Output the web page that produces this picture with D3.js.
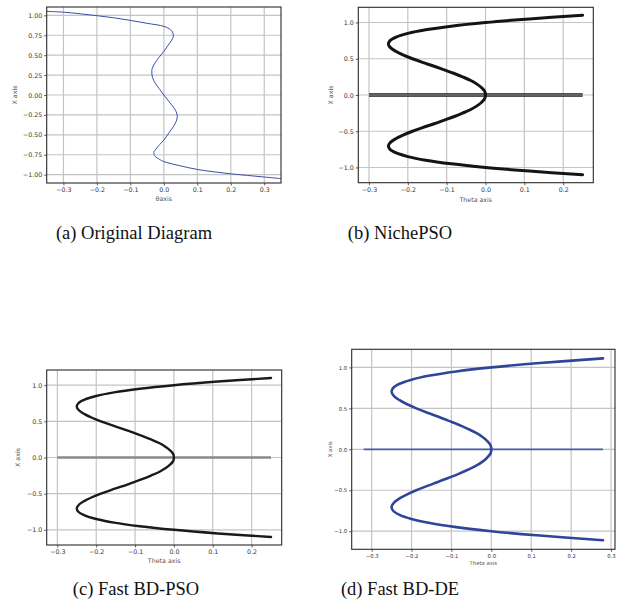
<!DOCTYPE html>
<html><head><meta charset="utf-8">
<script src="https://cdn.jsdelivr.net/npm/d3@7"></script>
<style>html,body{margin:0;padding:0;background:#fff}svg{display:block}</style>
</head><body>
<svg id="c" width="617" height="610"></svg>
<script>
// ---------- data ----------
const captions = ["(a) Original Diagram", "(b) NichePSO", "(c) Fast BD-PSO", "(d) Fast BD-DE"];

// (a) original diagram : X value and theta value along the curve
const aCurveX =     [1.05, 1.04, 1.02, 0.996, 0.97, 0.937, 0.90, 0.862, 0.82, 0.78, 0.73, 0.68, 0.62, 0.547, 0.47, 0.40, 0.33, 0.29, 0.22, 0.15, 0.08, 0.00, -0.08, -0.15, -0.21, -0.27, -0.33, -0.40, -0.47, -0.56, -0.62, -0.68, -0.723, -0.77, -0.81, -0.836, -0.89, -0.935, -0.965, -0.99, -1.01, -1.03, -1.05];
const aCurveTheta = [-0.35, -0.30, -0.25, -0.20, -0.15, -0.10, -0.05, 0.00, 0.020, 0.027, 0.028, 0.022, 0.012, 0.000, -0.015, -0.027, -0.035, -0.036, -0.034, -0.026, -0.014, 0.000, 0.015, 0.028, 0.037, 0.040, 0.037, 0.028, 0.016, 0.001, -0.012, -0.024, -0.030, -0.026, -0.012, 0.000, 0.05, 0.10, 0.15, 0.20, 0.25, 0.30, 0.35];
const aXTicks = [-0.3, -0.2, -0.1, 0.0, 0.1, 0.2, 0.3];
const aYTicks = [-1.0, -0.75, -0.5, -0.25, 0.0, 0.25, 0.5, 0.75, 1.0];

// (b), (c) bifurcation curve
const bcCurveX =     [1.10, 1.05, 1.00, 0.95, 0.90, 0.85, 0.80, 0.75, 0.70, 0.65, 0.60, 0.55, 0.50, 0.45, 0.40, 0.35, 0.30, 0.25, 0.20, 0.15, 0.10, 0.05, 0.00, -0.05, -0.10, -0.15, -0.20, -0.25, -0.30, -0.35, -0.40, -0.45, -0.50, -0.55, -0.60, -0.65, -0.70, -0.75, -0.80, -0.85, -0.90, -0.95, -1.00, -1.05, -1.10];
const bcCurveTheta = [0.25, 0.113, 0.00, -0.088, -0.154, -0.200, -0.230, -0.246, -0.250, -0.244, -0.230, -0.211, -0.188, -0.162, -0.134, -0.108, -0.082, -0.059, -0.038, -0.022, -0.010, -0.002, 0.00, -0.002, -0.010, -0.022, -0.038, -0.059, -0.082, -0.108, -0.134, -0.162, -0.188, -0.211, -0.230, -0.244, -0.250, -0.246, -0.230, -0.200, -0.154, -0.088, 0.00, 0.113, 0.25];
const bcBranchTheta = [-0.30, 0.25];
const bcXTicks = [-0.3, -0.2, -0.1, 0.0, 0.1, 0.2];

// (d) Fast BD-DE
const dCurveX =     [1.11, 1.05, 1.00, 0.95, 0.90, 0.85, 0.80, 0.75, 0.70, 0.65, 0.60, 0.55, 0.50, 0.45, 0.40, 0.35, 0.30, 0.25, 0.20, 0.15, 0.10, 0.05, 0.00, -0.05, -0.10, -0.15, -0.20, -0.25, -0.30, -0.35, -0.40, -0.45, -0.50, -0.55, -0.60, -0.65, -0.70, -0.75, -0.80, -0.85, -0.90, -0.95, -1.00, -1.05, -1.11];
const dCurveTheta = [0.28, 0.113, 0.00, -0.088, -0.154, -0.200, -0.230, -0.246, -0.250, -0.244, -0.230, -0.211, -0.188, -0.162, -0.134, -0.108, -0.082, -0.059, -0.038, -0.022, -0.010, -0.002, 0.00, -0.002, -0.010, -0.022, -0.038, -0.059, -0.082, -0.108, -0.134, -0.162, -0.188, -0.211, -0.230, -0.244, -0.250, -0.246, -0.230, -0.200, -0.154, -0.088, 0.00, 0.113, 0.28];
const dBranchTheta = [-0.32, 0.28];
const dXTicks = [-0.3, -0.2, -0.1, 0.0, 0.1, 0.2, 0.3];

const yTicksHalf = [-1.0, -0.5, 0.0, 0.5, 1.0];

// ---------- drawing ----------
const svg = d3.select("#c");

function panel(cfg) {
  const g = svg.append("g");
  const x = d3.scaleLinear().domain(cfg.xDomain).range([cfg.left, cfg.right]);
  const y = d3.scaleLinear().domain(cfg.yDomain).range([cfg.bottom, cfg.top]);
  const fs = cfg.fs;

  // grid
  g.append("g").selectAll("line").data(cfg.xTicks).join("line")
    .attr("x1", d => x(d)).attr("x2", d => x(d))
    .attr("y1", cfg.top).attr("y2", cfg.bottom)
    .attr("stroke", "#c4c4c4").attr("stroke-width", 1.2);
  g.append("g").selectAll("line").data(cfg.yTicks).join("line")
    .attr("x1", cfg.left).attr("x2", cfg.right)
    .attr("y1", d => y(d)).attr("y2", d => y(d))
    .attr("stroke", "#c4c4c4").attr("stroke-width", 1.2);

  // clip
  const clipId = "clip" + cfg.id;
  svg.append("clipPath").attr("id", clipId).append("rect")
    .attr("x", cfg.left).attr("y", cfg.top)
    .attr("width", cfg.right - cfg.left).attr("height", cfg.bottom - cfg.top);
  const plot = g.append("g").attr("clip-path", `url(#${clipId})`);

  const line = d3.line().x(d => x(d[1])).y(d => y(d[0])).curve(d3.curveCatmullRom.alpha(0.5));

  if (cfg.branch) {
    cfg.branch.forEach(b => {
      plot.append("line")
        .attr("x1", x(cfg.branchTheta[0])).attr("x2", x(cfg.branchTheta[1]))
        .attr("y1", y(0)).attr("y2", y(0))
        .attr("stroke", b.color).attr("stroke-width", b.width);
    });
  }
  const pts = cfg.curveX.map((v, i) => [v, cfg.curveTheta[i]]);
  plot.append("path").datum(pts).attr("d", line)
    .attr("fill", "none").attr("stroke", cfg.color).attr("stroke-width", cfg.lw)
    .attr("stroke-linejoin", "round").attr("stroke-linecap", "round");

  // frame
  g.append("rect").attr("x", cfg.left).attr("y", cfg.top)
    .attr("width", cfg.right - cfg.left).attr("height", cfg.bottom - cfg.top)
    .attr("fill", "none").attr("stroke", "#2a2a2a").attr("stroke-width", 1.1);

  // axes
  const fmtX = d3.format(".1f");
  const xa = g.append("g").attr("transform", `translate(0,${cfg.bottom})`)
    .call(d3.axisBottom(x).tickValues(cfg.xTicks).tickFormat(fmtX).tickSize(2.5).tickPadding(2));
  const ya = g.append("g").attr("transform", `translate(${cfg.left},0)`)
    .call(d3.axisLeft(y).tickValues(cfg.yTicks).tickFormat(d3.format(cfg.yFmt)).tickSize(2.5).tickPadding(2));
  [xa, ya].forEach(a => {
    a.select(".domain").remove();
    a.selectAll(".tick line").attr("stroke", "#333").attr("stroke-width", 0.8);
    a.selectAll(".tick text").attr("fill", "#333").style("font-family", "DejaVu Sans").style("font-size", fs + "px");
  });

  // labels
  g.append("text").attr("x", (cfg.left + cfg.right) / 2).attr("y", cfg.xLabelY)
    .attr("text-anchor", "middle").attr("fill", "#555")
    .style("font-family", "DejaVu Sans").style("font-size", fs + "px").text(cfg.xLabel);
  g.append("text").attr("transform", `translate(${cfg.yLabelX},${(cfg.top + cfg.bottom) / 2}) rotate(-90)`)
    .attr("text-anchor", "middle").attr("fill", "#555")
    .style("font-family", "DejaVu Sans").style("font-size", fs + "px").text(cfg.yLabel);
}

panel({id: "a", left: 46.7, right: 281, top: 7, bottom: 183,
  xDomain: [-0.35, 0.35], yDomain: [-1.105, 1.105],
  xTicks: aXTicks, yTicks: aYTicks, yFmt: ".2f",
  curveX: aCurveX, curveTheta: aCurveTheta, color: "#3b4ea6", lw: 1,
  fs: 6.3, xLabel: "θaxis", yLabel: "X axis", xLabelY: 201, yLabelX: 17});

panel({id: "b", left: 358.3, right: 593.3, top: 7.3, bottom: 182.7,
  xDomain: [-0.3275, 0.2775], yDomain: [-1.21, 1.21],
  xTicks: bcXTicks, yTicks: yTicksHalf, yFmt: ".1f",
  curveX: bcCurveX, curveTheta: bcCurveTheta, color: "#141414", lw: 3,
  branch: [{color: "#1a1a1a", width: 3.4}, {color: "#aaaaaa", width: 1}], branchTheta: bcBranchTheta,
  fs: 6.3, xLabel: "Theta axis", yLabel: "X axis", xLabelY: 202, yLabelX: 333});

panel({id: "c", left: 46.7, right: 281.7, top: 370, bottom: 545,
  xDomain: [-0.3275, 0.2775], yDomain: [-1.21, 1.21],
  xTicks: bcXTicks, yTicks: yTicksHalf, yFmt: ".1f",
  curveX: bcCurveX, curveTheta: bcCurveTheta, color: "#1a1a1a", lw: 2.4,
  branch: [{color: "#8a8a8a", width: 2.4}], branchTheta: bcBranchTheta,
  fs: 6.3, xLabel: "Theta axis", yLabel: "X axis", xLabelY: 563, yLabelX: 20});

panel({id: "d", left: 351.7, right: 615, top: 349.3, bottom: 549.3,
  xDomain: [-0.35, 0.31], yDomain: [-1.221, 1.221],
  xTicks: dXTicks, yTicks: yTicksHalf, yFmt: ".1f",
  curveX: dCurveX, curveTheta: dCurveTheta, color: "#2f4599", lw: 2.6,
  branch: [{color: "#4a5ea8", width: 1.8}], branchTheta: dBranchTheta,
  fs: 5.3, xLabel: "Theta axis", yLabel: "X axis", xLabelY: 564.5, yLabelX: 332});

// captions
const capPos = [[134, 239], [400, 239], [136, 595], [400, 595]];
svg.append("g").selectAll("text").data(captions).join("text")
  .attr("x", (d, i) => capPos[i][0]).attr("y", (d, i) => capPos[i][1])
  .attr("text-anchor", "middle").attr("fill", "#111")
  .style("font-family", "Liberation Serif").style("font-size", "18.5px")
  .text(d => d);
</script>
</body></html>
